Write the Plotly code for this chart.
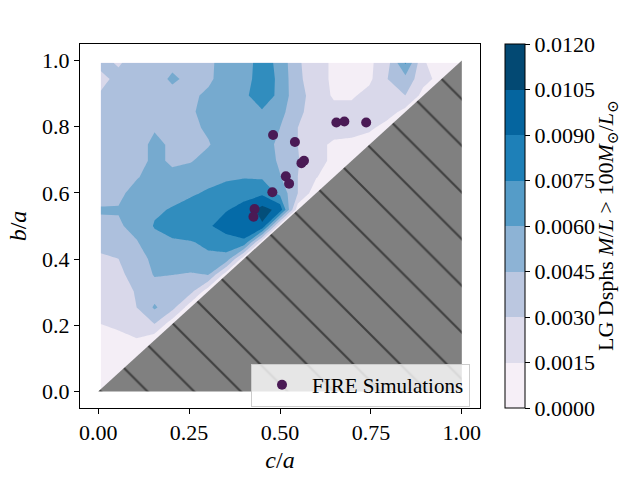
import plotly.graph_objects as go

# ---- data -------------------------------------------------------------
grid_x = [0.007, 0.056, 0.106, 0.155, 0.204, 0.254, 0.303, 0.352, 0.401, 0.451, 0.500,
          0.549, 0.599, 0.648, 0.697, 0.746, 0.796, 0.845, 0.894, 0.944, 0.993]
grid_y = [0.007, 0.056, 0.106, 0.155, 0.204, 0.254, 0.303, 0.352, 0.401, 0.451, 0.500,
          0.549, 0.599, 0.648, 0.697, 0.746, 0.796, 0.845, 0.894, 0.944, 0.993]

# fraction of LG dSphs with M/L > 100 (rows: b/a, columns: c/a)
frac = [
    [0.0003] + [0] * 20,
    [0.0006, 0.0004] + [0] * 19,
    [0.0008, 0.0010, 0.0005] + [0] * 18,
    [0.0010, 0.0012, 0.0014, 0.0005] + [0] * 17,
    [0.0015, 0.0017, 0.0022, 0.0030, 0.0006] + [0] * 16,
    [0.0020, 0.0024, 0.0030, 0.0047, 0.0035, 0.0006] + [0] * 15,
    [0.0022, 0.0025, 0.0031, 0.0038, 0.0038, 0.0035, 0.0006] + [0] * 14,
    [0.0025, 0.0027, 0.0035, 0.0046, 0.0045, 0.0043, 0.0045, 0.0006] + [0] * 13,
    [0.0025, 0.0030, 0.0040, 0.0048, 0.0054, 0.0056, 0.0057, 0.0055, 0.0006] + [0] * 12,
    [0.0040, 0.0043, 0.0044, 0.0055, 0.0058, 0.0059, 0.0063, 0.0068, 0.0072, 0.0006] + [0] * 11,
    [0.0040, 0.0043, 0.0050, 0.0061, 0.0066, 0.0070, 0.0073, 0.0082, 0.0086, 0.0088, 0.0006] + [0] * 10,
    [0.0047, 0.0046, 0.0052, 0.0058, 0.0061, 0.0066, 0.0070, 0.0074, 0.0080, 0.0096, 0.0085,
     0.0006] + [0] * 9,
    [0.0037, 0.0042, 0.0050, 0.0054, 0.0056, 0.0058, 0.0062, 0.0068, 0.0070, 0.0072, 0.0056,
     0.0030, 0.0006] + [0] * 8,
    [0.0036, 0.0038, 0.0044, 0.0050, 0.0048, 0.0052, 0.0055, 0.0057, 0.0059, 0.0058, 0.0046,
     0.0030, 0.0016, 0.0006] + [0] * 7,
    [0.0035, 0.0037, 0.0040, 0.0048, 0.0043, 0.0044, 0.0050, 0.0054, 0.0057, 0.0056, 0.0042,
     0.0031, 0.0020, 0.0012, 0.0006] + [0] * 6,
    [0.0034, 0.0036, 0.0040, 0.0048, 0.0043, 0.0044, 0.0044, 0.0052, 0.0055, 0.0055, 0.0040,
     0.0030, 0.0020, 0.0012, 0.0010, 0.0006] + [0] * 5,
    [0.0034, 0.0036, 0.0038, 0.0044, 0.0044, 0.0042, 0.0047, 0.0053, 0.0056, 0.0056, 0.0045,
     0.0030, 0.0022, 0.0022, 0.0022, 0.0018, 0.0008] + [0] * 4,
    [0.0034, 0.0036, 0.0038, 0.0040, 0.0041, 0.0043, 0.0050, 0.0053, 0.0056, 0.0058, 0.0050,
     0.0034, 0.0022, 0.0020, 0.0020, 0.0020, 0.0022, 0.0010] + [0] * 3,
    [0.0032, 0.0036, 0.0038, 0.0040, 0.0041, 0.0043, 0.0047, 0.0052, 0.0056, 0.0071, 0.0055,
     0.0035, 0.0024, 0.0013, 0.0013, 0.0020, 0.0030, 0.0030, 0.0010] + [0] * 2,
    [0.0025, 0.0035, 0.0038, 0.0040, 0.0047, 0.0042, 0.0043, 0.0050, 0.0052, 0.0070, 0.0056,
     0.0033, 0.0022, 0.0012, 0.0012, 0.0012, 0.0030, 0.0040, 0.0020, 0.0010, 0.0000],
    [0.0035, 0.0028, 0.0038, 0.0040, 0.0042, 0.0043, 0.0044, 0.0047, 0.0052, 0.0068, 0.0055,
     0.0032, 0.0022, 0.0012, 0.0010, 0.0012, 0.0025, 0.0062, 0.0016, 0.0010, 0.0008],
]

levels = [0.0000, 0.0015, 0.0030, 0.0045, 0.0060, 0.0075, 0.0090, 0.0105, 0.0120]
level_labels = ["0.0000", "0.0015", "0.0030", "0.0045", "0.0060", "0.0075", "0.0090", "0.0105", "0.0120"]
# colours of the filled bands inside the axes
field_colors = ["#f4eef6", "#d9d8ea", "#adc0dd", "#76aacf", "#318dbe", "#056ba8", "#034e7a", "#023858"]
# colours of the bands on the colour bar
bar_colors = ["#f6eff7", "#dedcec", "#bbc7e0", "#8db3d5", "#559cc8", "#1e80b8", "#05659f", "#034973"]

fire_ca = [0.481, 0.479, 0.430, 0.427, 0.541, 0.559, 0.566, 0.516, 0.525, 0.655, 0.677, 0.737]
fire_ba = [0.775, 0.602, 0.551, 0.528, 0.754, 0.690, 0.697, 0.650, 0.628, 0.813, 0.816, 0.813]

# forbidden region c/a > b/a
forbid_x = [0, 1, 1, 0]
forbid_y = [0, 0, 1, 0]

x_ticks = [0, 0.25, 0.5, 0.75, 1.0]
x_ticklabels = ["0.00", "0.25", "0.50", "0.75", "1.00"]
y_ticks = [0, 0.2, 0.4, 0.6, 0.8, 1.0]
y_ticklabels = ["0.0", "0.2", "0.4", "0.6", "0.8", "1.0"]

# ---- figure ------------------------------------------------------------
FONT = "Liberation Serif, DejaVu Serif, serif"


def stepped(colors):
    n = len(colors)
    cs = []
    for k, c in enumerate(colors):
        cs.append([k / n, c])
        cs.append([(k + 1) / n, c])
    return cs


contour_common = dict(
    zmin=levels[0], zmax=levels[-1], autocontour=False,
    contours=dict(start=levels[0], end=levels[-1], size=levels[1] - levels[0],
                  coloring="fill", showlines=False),
    line=dict(width=0, smoothing=0), hoverinfo="skip", showlegend=False,
)

fig = go.Figure()
fig.add_trace(go.Contour(
    x=grid_x, y=grid_y, z=frac, colorscale=stepped(field_colors), showscale=False,
    **contour_common,
))
# colour-bar carrier (its field lies outside the visible axes range)
fig.add_trace(go.Contour(
    x=[-3, -2], y=[-3, -2], z=[[levels[0], levels[4]], [levels[4], levels[-1]]],
    colorscale=stepped(bar_colors), showscale=True,
    colorbar=dict(
        x=1.0625, xanchor="left", xpad=0, ypad=0,
        y=0.5, yanchor="middle", len=1, lenmode="fraction",
        thickness=20, outlinecolor="black", outlinewidth=1,
        tickvals=levels, ticktext=level_labels,
        ticks="outside", ticklen=5, tickwidth=1, tickcolor="black",
        tickfont=dict(family=FONT, size=22, color="black"),
    ),
    **contour_common,
))
fig.add_trace(go.Scatter(
    x=forbid_x, y=forbid_y, mode="lines", fill="toself",
    fillcolor="#808080", line=dict(width=0),
    fillpattern=dict(shape="\\", bgcolor="#808080", fgcolor="black", size=33, solidity=0.065),
    hoverinfo="skip", showlegend=False,
))
fig.add_trace(go.Scatter(
    x=fire_ca, y=fire_ba, mode="markers", name="FIRE Simulations",
    marker=dict(color="#4a1a55", size=10, line=dict(width=0)),
))

axis_common = dict(
    range=[-0.05, 1.05], showgrid=False, zeroline=False,
    showline=True, linecolor="black", linewidth=1, mirror=True,
    ticks="outside", ticklen=5, tickwidth=1, tickcolor="black",
    tickfont=dict(family=FONT, size=22, color="black"),
)
fig.update_layout(
    width=640, height=480,
    margin=dict(l=80, r=160, t=44, b=66),
    paper_bgcolor="white", plot_bgcolor="white",
    xaxis=dict(axis_common, tickvals=x_ticks, ticktext=x_ticklabels,
               title=dict(text="<i>c</i>/<i>a</i>", font=dict(family=FONT, size=24, color="black"), standoff=6)),
    yaxis=dict(axis_common, tickvals=y_ticks, ticktext=y_ticklabels,
               title=dict(text="<i>b</i>/<i>a</i>", font=dict(family=FONT, size=24, color="black"), standoff=8)),
    legend=dict(x=0.975, xanchor="right", y=0.004, yanchor="bottom",
                bgcolor="rgba(255,255,255,0.8)", bordercolor="#cccccc", borderwidth=1,
                font=dict(family=FONT, size=21, color="black"), itemwidth=50),
    showlegend=True,
    annotations=[dict(
        text="LG Dsphs <i>M</i>/<i>L</i> &gt; 100<i>M</i><sub>⊙</sub>/<i>L</i><sub>⊙</sub>",
        xref="paper", yref="paper", x=1.3175, y=0.5, xanchor="center", yanchor="middle",
        textangle=-90, showarrow=False, font=dict(family=FONT, size=22, color="black"),
    )],
)

fig.write_html("out.html")
